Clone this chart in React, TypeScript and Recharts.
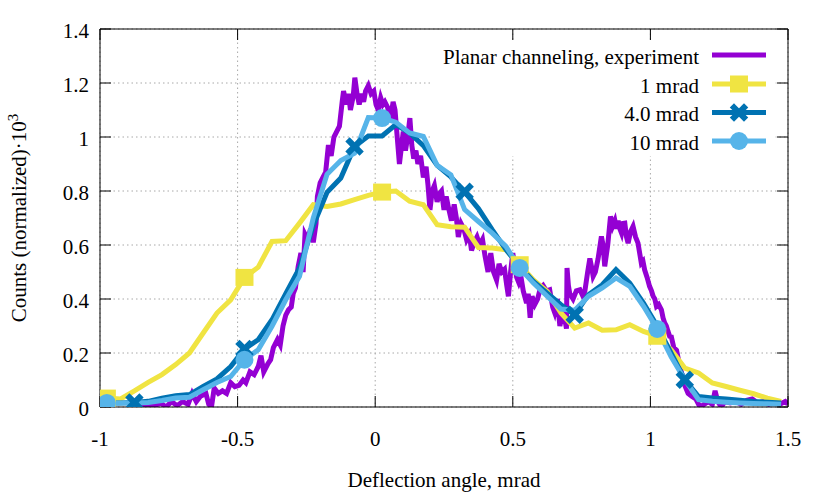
import React from 'react';
import { LineChart, Line, XAxis, YAxis, CartesianGrid, Legend, ReferenceArea } from 'recharts';

const FONT = "'Liberation Serif', 'Times New Roman', Times, serif";

// Model curves: sampled angles (mrad)
const modelX = [
  -0.975, -0.925, -0.875, -0.825, -0.775, -0.725, -0.675, -0.625, -0.575, -0.525,
  -0.475, -0.425, -0.375, -0.325, -0.275, -0.225, -0.175, -0.125, -0.075, -0.025,
  0.025, 0.075, 0.125, 0.175, 0.225, 0.275, 0.325, 0.375, 0.425, 0.475,
  0.525, 0.575, 0.625, 0.675, 0.725, 0.775, 0.825, 0.875, 0.925, 0.975,
  1.025, 1.075, 1.125, 1.175, 1.225, 1.275, 1.325, 1.375, 1.425, 1.475,
];

const oneMrad = [
  0.033, 0.030, 0.060, 0.091, 0.120, 0.157, 0.200, 0.274, 0.348, 0.397,
  0.480, 0.518, 0.613, 0.616, 0.681, 0.749, 0.743, 0.752, 0.768, 0.784,
  0.796, 0.800, 0.762, 0.749, 0.675, 0.668, 0.666, 0.591, 0.589, 0.582,
  0.527, 0.471, 0.428, 0.348, 0.292, 0.311, 0.284, 0.286, 0.305, 0.280,
  0.262, 0.212, 0.144, 0.126, 0.089, 0.076, 0.062, 0.049, 0.033, 0.021,
];

const fourMrad = [
  0.015, 0.015, 0.017, 0.021, 0.033, 0.042, 0.046, 0.076, 0.104, 0.150,
  0.215, 0.249, 0.323, 0.420, 0.515, 0.672, 0.795, 0.848, 0.965, 1.004,
  1.004, 1.046, 1.015, 0.968, 0.895, 0.852, 0.797, 0.735, 0.657, 0.583,
  0.521, 0.465, 0.422, 0.379, 0.342, 0.416, 0.453, 0.509, 0.459, 0.385,
  0.299, 0.200, 0.101, 0.039, 0.033, 0.030, 0.025, 0.020, 0.018, 0.015,
];

const tenMrad = [
  0.015, 0.015, 0.015, 0.017, 0.024, 0.033, 0.036, 0.064, 0.091, 0.113,
  0.175, 0.212, 0.299, 0.397, 0.484, 0.700, 0.862, 0.913, 0.940, 1.072,
  1.070, 1.055, 1.015, 1.002, 0.895, 0.860, 0.731, 0.687, 0.644, 0.595,
  0.515, 0.459, 0.410, 0.363, 0.358, 0.410, 0.441, 0.478, 0.447, 0.373,
  0.289, 0.187, 0.101, 0.027, 0.021, 0.018, 0.015, 0.013, 0.012, 0.010,
];

// Experimental planar channeling data
const expX = [
  -0.86, -0.83, -0.8, -0.78, -0.76, -0.74, -0.72, -0.7, -0.68, -0.665, -0.65, -0.635, -0.615, -0.605, -0.595,
  -0.585, -0.57, -0.555, -0.54, -0.525, -0.51, -0.495, -0.48, -0.47, -0.455, -0.44, -0.425, -0.415, -0.405,
  -0.39, -0.38, -0.37, -0.355, -0.345, -0.335, -0.325, -0.315, -0.305, -0.298, -0.29, -0.28, -0.27, -0.262,
  -0.255, -0.245, -0.235, -0.225, -0.215, -0.21, -0.2, -0.19, -0.18, -0.17, -0.16, -0.15, -0.14, -0.13, -0.12,
  -0.115, -0.105, -0.097, -0.09, -0.08, -0.074, -0.066, -0.058, -0.05, -0.042, -0.035, -0.025, -0.015, -0.005,
  0.003, 0.011, 0.02, 0.028, 0.035, 0.045, 0.055, 0.065, 0.072, 0.08, 0.088, 0.096, 0.102, 0.11, 0.118, 0.126,
  0.133, 0.14, 0.148, 0.155, 0.165, 0.175, 0.185, 0.192, 0.199, 0.207, 0.215, 0.225, 0.233, 0.241, 0.25, 0.258,
  0.266, 0.277, 0.287, 0.295, 0.302, 0.312, 0.322, 0.332, 0.342, 0.35, 0.36, 0.37, 0.38, 0.39, 0.399, 0.41,
  0.42, 0.43, 0.441, 0.45, 0.46, 0.47, 0.478, 0.484, 0.492, 0.5, 0.507, 0.514, 0.522, 0.53, 0.538, 0.55, 0.556,
  0.563, 0.57, 0.58, 0.59, 0.6, 0.61, 0.622, 0.634, 0.645, 0.652, 0.662, 0.671, 0.683, 0.69, 0.695, 0.697,
  0.702, 0.707, 0.719, 0.731, 0.744, 0.755, 0.762, 0.772, 0.78, 0.786, 0.792, 0.8, 0.81, 0.822, 0.828, 0.834,
  0.845, 0.855, 0.863, 0.871, 0.877, 0.883, 0.889, 0.895, 0.901, 0.907, 0.913, 0.919, 0.928, 0.937, 0.946,
  0.955, 0.961, 0.967, 0.973, 0.979, 0.988, 0.997, 1.004, 1.01, 1.016, 1.022, 1.03, 1.04, 1.046, 1.052, 1.058,
  1.064, 1.07, 1.076, 1.085, 1.095, 1.107, 1.115, 1.125, 1.137, 1.15, 1.165, 1.18, 1.195, 1.21, 1.225, 1.235,
  1.245, 1.258, 1.27, 1.29, 1.31, 1.33, 1.35, 1.37, 1.39, 1.41, 1.43, 1.45, 1.47, 1.49, 1.5,
];

const expY = [
  0.0, 0.01, 0.005, 0.015, 0.0, 0.02, 0.005, 0.02, 0.01, 0.05, 0.02, 0.04, 0.05, 0.01, 0.0,
  0.07, 0.05, 0.06, 0.05, 0.09, 0.075, 0.08, 0.1, 0.09, 0.13, 0.12, 0.15, 0.19, 0.13,
  0.16, 0.175, 0.22, 0.25, 0.23, 0.3, 0.34, 0.36, 0.37, 0.42, 0.44, 0.52, 0.57, 0.5,
  0.64, 0.62, 0.66, 0.61, 0.68, 0.78, 0.83, 0.85, 0.87, 0.97, 0.93, 1.0, 1.02, 1.04, 1.13,
  1.17, 1.12, 1.16, 1.1, 1.15, 1.22, 1.16, 1.12, 1.16, 1.13, 1.17, 1.19, 1.16, 1.17,
  1.12, 1.1, 1.145, 1.12, 1.13, 1.11, 1.06, 1.13, 1.1, 1.0, 0.9, 0.97, 1.02, 0.95, 1.0, 1.07,
  0.97, 0.92, 0.95, 0.9, 0.93, 0.85, 0.89, 0.82, 0.73, 0.8, 0.82, 0.76, 0.79, 0.8, 0.73, 0.78,
  0.74, 0.69, 0.75, 0.7, 0.63, 0.68, 0.66, 0.62, 0.64, 0.58, 0.61, 0.63, 0.6, 0.62, 0.56, 0.5,
  0.57, 0.5, 0.47, 0.53, 0.5, 0.51, 0.45, 0.41, 0.5, 0.57, 0.52, 0.48, 0.46, 0.48, 0.43, 0.385, 0.42,
  0.33, 0.41, 0.38, 0.4, 0.44, 0.45, 0.43, 0.434, 0.37, 0.35, 0.4, 0.3, 0.36, 0.32, 0.29, 0.515,
  0.45, 0.42, 0.4, 0.43, 0.434, 0.41, 0.43, 0.5, 0.55, 0.52, 0.484, 0.5, 0.55, 0.632, 0.6, 0.521,
  0.6, 0.706, 0.67, 0.69, 0.66, 0.69, 0.66, 0.644, 0.68, 0.681, 0.63, 0.607, 0.65, 0.669, 0.63,
  0.607, 0.57, 0.533, 0.54, 0.508, 0.48, 0.447, 0.43, 0.41, 0.4, 0.373, 0.38, 0.36, 0.33, 0.311, 0.3,
  0.28, 0.262, 0.26, 0.22, 0.21, 0.15, 0.12, 0.08, 0.05, 0.04, 0.03, 0.0, 0.01, 0.02, 0.01, 0.06,
  0.02, 0.0, 0.02, 0.015, 0.02, 0.01, 0.025, 0.03, 0.015, 0.02, 0.01, 0.02, 0.01, 0.02, 0.01,
];

const xTicks = [-1, -0.5, 0, 0.5, 1, 1.5];
const yTicks = [0, 0.2, 0.4, 0.6, 0.8, 1, 1.2, 1.4];

const seriesNames = ['Planar channeling, experiment', '1 mrad', '4.0 mrad', '10 mrad'];
const seriesColors = ['#9400d3', '#f0e442', '#0072b2', '#56b4e9'];

const oneMarkerIdx = [0, 10, 20, 30, 40];
const fourMarkerIdx = [2, 10, 18, 26, 34, 42];
const tenMarkerIdx = [0, 10, 20, 30, 40];

const oneData = modelX.map((x, i) => ({ x, y: oneMrad[i] }));
const fourData = modelX.map((x, i) => ({ x, y: fourMrad[i] }));
const tenData = modelX.map((x, i) => ({ x, y: tenMrad[i] }));
const expData = expX.map((x, i) => ({ x, y: expY[i] }));

type Shape = 'square' | 'cross' | 'circle';

function Marker({ shape, cx, cy, color }: { shape: Shape; cx: number; cy: number; color: string }) {
  if (shape === 'square') {
    return <rect x={cx - 9} y={cy - 8.5} width={18} height={17} fill={color} />;
  }
  if (shape === 'circle') {
    return <circle cx={cx} cy={cy} r={9} fill={color} />;
  }
  const s = 5;
  return (
    <g stroke={color} strokeWidth={6} strokeLinecap="square">
      <line x1={cx - s} y1={cy - s} x2={cx + s} y2={cy + s} />
      <line x1={cx - s} y1={cy + s} x2={cx + s} y2={cy - s} />
    </g>
  );
}

const makeDot = (indices: number[], shape: Shape, color: string) => (props: any) => {
  const { cx, cy, index } = props;
  if (!indices.includes(index) || cx == null || cy == null) {
    return <g key={`n-${shape}-${index}`} />;
  }
  return (
    <g key={`m-${shape}-${index}`}>
      <Marker shape={shape} cx={cx} cy={cy} color={color} />
    </g>
  );
};

const legendShapes: (Shape | null)[] = [null, 'square', 'cross', 'circle'];
const legendRowY = [15, 44, 72.5, 101];

function LegendBox() {
  return (
    <svg width={360} height={120} style={{ display: 'block', overflow: 'visible' }}>
      {seriesNames.map((name, i) => (
        <g key={name}>
          <text
            x={269}
            y={legendRowY[i] + 8.5}
            textAnchor="end"
            fontFamily={FONT}
            fontSize={21}
            fill="#000"
          >
            {name}
          </text>
          <line
            x1={282}
            x2={336}
            y1={legendRowY[i]}
            y2={legendRowY[i]}
            stroke={seriesColors[i]}
            strokeWidth={5}
          />
          {legendShapes[i] && (
            <Marker shape={legendShapes[i] as Shape} cx={309} cy={legendRowY[i]} color={seriesColors[i]} />
          )}
        </g>
      ))}
    </svg>
  );
}

function YLabel(props: any) {
  const vb = props.viewBox || {};
  const cy = (vb.y ?? 0) + (vb.height ?? 0) / 2;
  const x = 26;
  return (
    <text
      x={x}
      y={cy}
      transform={`rotate(-90, ${x}, ${cy})`}
      textAnchor="middle"
      fontFamily={FONT}
      fontSize={21}
      fill="#000"
    >
      Counts (normalized)·10
      <tspan dy={-8} fontSize={15}>3</tspan>
    </text>
  );
}

function XLabel(props: any) {
  const vb = props.viewBox || {};
  const cx = (vb.x ?? 0) + (vb.width ?? 0) / 2;
  const y = (vb.y ?? 0) + 80;
  return (
    <text x={cx} y={y} textAnchor="middle" fontFamily={FONT} fontSize={21} fill="#000">
      Deflection angle, mrad
    </text>
  );
}

// Inward tick marks for the mirrored (top / right) border axes
function TopTick(props: any) {
  const { x, y } = props;
  return <line x1={x} x2={x} y1={y} y2={y + 11} stroke="#000" strokeWidth={1} />;
}
function RightTick(props: any) {
  const { x, y } = props;
  return <line x1={x - 11} x2={x} y1={y} y2={y} stroke="#000" strokeWidth={1} />;
}

const tickStyle = { fontFamily: FONT, fontSize: 21, fill: '#000' };

export default function App() {
  return (
    <div style={{ position: 'absolute', left: 0, top: 0, width: 830, height: 498, background: '#fff' }}>
      <LineChart width={830} height={498} margin={{ top: 28, right: 41, bottom: 61, left: 40 }}>
        <CartesianGrid stroke="#a8a8a8" strokeDasharray="1.5 3" strokeWidth={1} />
        <ReferenceArea x1={0.2} x2={1.455} y1={0.93} y2={1.355} fill="#fff" fillOpacity={1} stroke="none" />
        <XAxis
          type="number"
          dataKey="x"
          domain={[-1, 1.5]}
          ticks={xTicks}
          interval={0}
          allowDataOverflow
          height={30}
          stroke="#000"
          tickSize={-11}
          tickMargin={35}
          tick={tickStyle}
          label={<XLabel />}
        />
        <XAxis
          xAxisId="top"
          orientation="top"
          type="number"
          dataKey="x"
          domain={[-1, 1.5]}
          ticks={xTicks}
          interval={0}
          allowDataOverflow
          height={1}
          stroke="#000"
          tickLine={false}
          tickSize={0}
          tickMargin={0}
          tick={<TopTick />}
        />
        <YAxis
          type="number"
          domain={[0, 1.4]}
          ticks={yTicks}
          interval={0}
          allowDataOverflow
          width={60}
          stroke="#000"
          tickSize={-11}
          tickMargin={22}
          tick={{ ...tickStyle, dy: 1.5 }}
          label={<YLabel />}
        />
        <YAxis
          yAxisId="right"
          orientation="right"
          type="number"
          domain={[0, 1.4]}
          ticks={yTicks}
          interval={0}
          allowDataOverflow
          width={1}
          stroke="#000"
          tickLine={false}
          tickSize={0}
          tickMargin={0}
          tick={<RightTick />}
        />
        <Line
          data={expData}
          dataKey="y"
          name={seriesNames[0]}
          type="linear"
          stroke={seriesColors[0]}
          strokeWidth={5}
          strokeLinejoin="miter"
          dot={false}
          activeDot={false}
          isAnimationActive={false}
        />
        <Line
          data={oneData}
          dataKey="y"
          name={seriesNames[1]}
          type="linear"
          stroke={seriesColors[1]}
          strokeWidth={5}
          dot={makeDot(oneMarkerIdx, 'square', seriesColors[1])}
          activeDot={false}
          isAnimationActive={false}
        />
        <Line
          data={fourData}
          dataKey="y"
          name={seriesNames[2]}
          type="linear"
          stroke={seriesColors[2]}
          strokeWidth={5}
          dot={makeDot(fourMarkerIdx, 'cross', seriesColors[2])}
          activeDot={false}
          isAnimationActive={false}
        />
        <Line
          data={tenData}
          dataKey="y"
          name={seriesNames[3]}
          type="linear"
          stroke={seriesColors[3]}
          strokeWidth={5}
          dot={makeDot(tenMarkerIdx, 'circle', seriesColors[3])}
          activeDot={false}
          isAnimationActive={false}
        />
        <Legend
          layout="horizontal"
          verticalAlign="middle"
          align="center"
          content={() => <LegendBox />}
          wrapperStyle={{ left: 430, top: 40, width: 360, height: 120 }}
        />
      </LineChart>
    </div>
  );
}
